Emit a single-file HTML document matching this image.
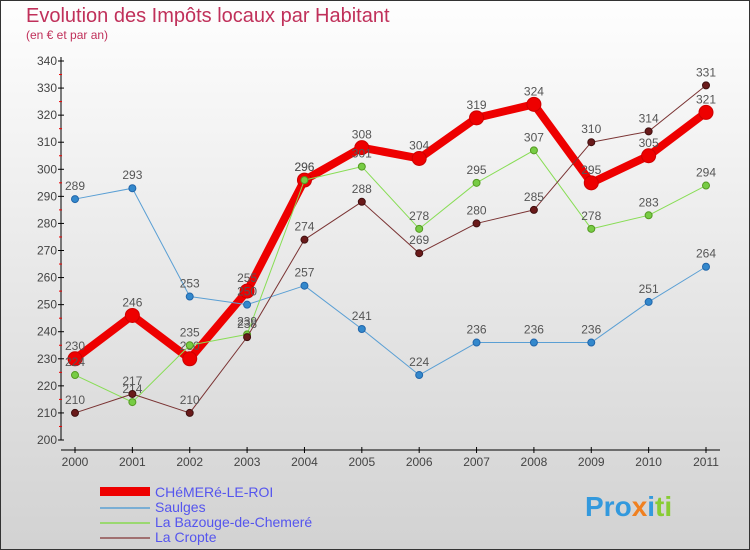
<!DOCTYPE html>
<html><head><meta charset="utf-8"><style>
body{margin:0}
#c{width:750px;height:550px;position:relative;overflow:hidden;box-sizing:border-box;border:1px solid #333;background:linear-gradient(#fefefe,#d2d2d2);font-family:"Liberation Sans",sans-serif}
</style></head><body>
<div id="c">
<svg id="s" width="750" height="550" style="position:absolute;left:-1px;top:-1px">
<text x="26" y="22" font-size="20" fill="#c0305a">Evolution des Impôts locaux par Habitant</text>
<text x="26" y="39" font-size="12" fill="#c0305a">(en € et par an)</text>
<g id="ax"></g><g id="ser"></g>
<g font-size="14" fill="#5555ee">
<rect x="100" y="487" width="50" height="9" fill="#e00"/>
<text x="155" y="497">CHéMERé-LE-ROI</text>
<line x1="100" y1="508" x2="150" y2="508" stroke="#7aaed4" stroke-width="2"/>
<text x="155" y="512">Saulges</text>
<line x1="100" y1="523" x2="150" y2="523" stroke="#9ad870" stroke-width="2"/>
<text x="155" y="527">La Bazouge-de-Chemeré</text>
<line x1="100" y1="538" x2="150" y2="538" stroke="#a07070" stroke-width="2"/>
<text x="155" y="542">La Cropte</text>
</g>
<text x="585" y="516" font-size="28" font-weight="bold"><tspan fill="#3399dd">Pro</tspan><tspan fill="#f08020">x</tspan><tspan fill="#3399dd">i</tspan><tspan fill="#88cc33">ti</tspan></text>
</svg>
</div>
<script>
const years=[2000,2001,2002,2003,2004,2005,2006,2007,2008,2009,2010,2011];
const chemere=[230,246,230,255,296,308,304,319,324,295,305,321];
const saulges=[289,293,253,250,257,241,224,236,236,236,251,264];
const bazouge=[224,214,235,239,296,301,278,295,307,278,283,294];
const cropte=[210,217,210,238,274,288,269,280,285,310,314,331];
const yTicks=[200,210,220,230,240,250,260,270,280,290,300,310,320,330,340];
const NS='http://www.w3.org/2000/svg';
function X(i){return 75+i*(706-75)/(years.length-1);}
function Y(v){return 440-(v-200)*(440-61)/140;}
function mk(t,a,p){const e=document.createElementNS(NS,t);for(const k in a)e.setAttribute(k,a[k]);p.appendChild(e);return e;}
const ax=document.getElementById('ax');
const yl=mk('line',{x1:61,y1:57,x2:61,y2:440,stroke:'#000'},ax);


yTicks.forEach(v=>{
 mk('line',{x1:58,x2:64,y1:Y(v),y2:Y(v),stroke:'#000'},ax);
 if(v<340)mk('line',{x1:59,x2:62,y1:Y(v+5),y2:Y(v+5),stroke:'#e00'},ax);
 const t=mk('text',{x:57,y:Y(v)+4,'font-size':12,fill:'#444','text-anchor':'end'},ax);t.textContent=v;
 
 
});
const xl=mk('line',{x1:61,y1:450,x2:720,y2:450,stroke:'#000'},ax);


years.forEach((y,i)=>{
 mk('line',{x1:X(i),x2:X(i),y1:447,y2:453,stroke:'#000'},ax);
 const t=mk('text',{x:X(i),y:466,'font-size':12,fill:'#444','text-anchor':'middle'},ax);t.textContent=y;
 
 
});
const ser=document.getElementById('ser');
function draw(d,name,col,w,dot,r,dotStroke){
 const g=mk('g',{},ser);
 
 
 const p=mk('polyline',{points:d.map((v,i)=>X(i)+','+Y(v)).join(' '),fill:'none',stroke:col,'stroke-width':w,'stroke-linejoin':'round'},g);
 
 
 d.forEach((v,i)=>{
  const c=mk('circle',{cx:X(i),cy:Y(v),r:r,fill:dot,stroke:dotStroke,'stroke-width':1},g);
  
  
  const t=mk('text',{x:X(i),y:Y(v)-9,'font-size':12,fill:'#555','text-anchor':'middle'},g);t.textContent=v;
  
  
 });
}
draw(chemere,'chemere','#ee0000',8,'#ee0000',7,'#c00');
draw(saulges,'saulges','#5a9fd4',1,'#3388cc',3.5,'#2266aa');
draw(bazouge,'bazouge','#88dd55',1,'#77cc44',3.5,'#559922');
draw(cropte,'cropte','#7a3333',1,'#6a1a1a',3.5,'#401010');
</script>
</body></html>
